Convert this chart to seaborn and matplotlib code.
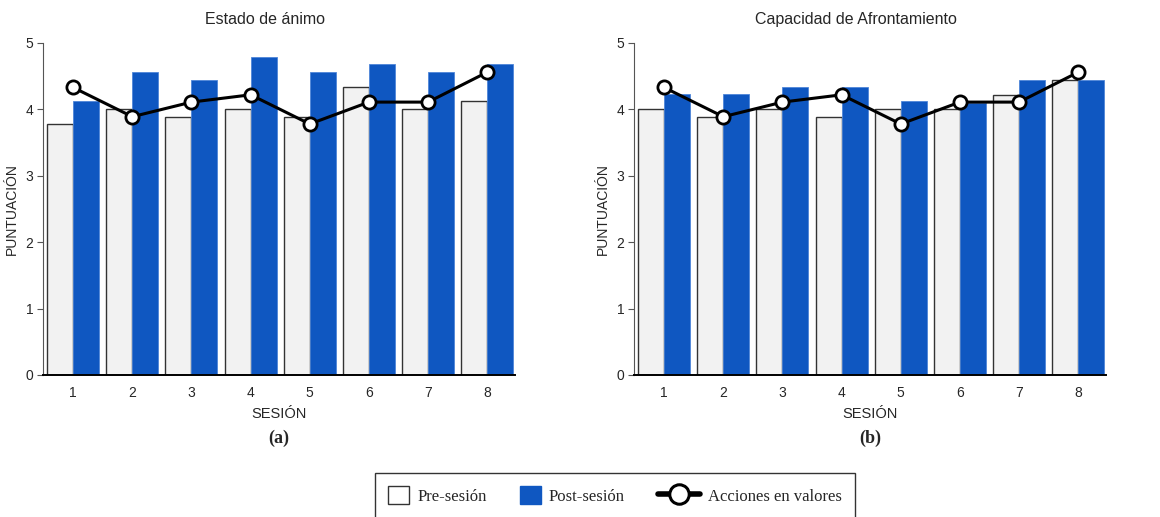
import seaborn as sns
import matplotlib.pyplot as plt
import pandas as pd
import numpy as np
from matplotlib.patches import Patch
from matplotlib.lines import Line2D
from matplotlib.legend_handler import HandlerLine2D

sns.set_style("ticks")
plt.rcParams['font.family'] = ['Liberation Sans', 'DejaVu Sans']

sesiones = ['1', '2', '3', '4', '5', '6', '7', '8']

animo_pre = [3.78, 4.0, 3.89, 4.0, 3.89, 4.34, 4.0, 4.12]
animo_post = [4.13, 4.56, 4.45, 4.79, 4.56, 4.68, 4.56, 4.68]

afront_pre = [4.0, 3.88, 4.0, 3.88, 4.0, 4.0, 4.22, 4.44]
afront_post = [4.23, 4.23, 4.34, 4.34, 4.12, 4.1, 4.45, 4.45]

acciones = [4.33, 3.89, 4.11, 4.22, 3.78, 4.11, 4.11, 4.56]

titulos = ['Estado de ánimo', 'Capacidad de Afrontamiento']
letras = ['(a)', '(b)']

pre_color = '#f2f2f2'
post_color = '#0f57c1'


class WideLine(HandlerLine2D):
    # the line handle in the legend is about twice as wide as the squares
    def legend_artist(self, legend, orig_handle, fontsize, handlebox):
        handlebox.width = handlebox.width * 2
        return super().legend_artist(legend, orig_handle, fontsize, handlebox)


fig = plt.figure(figsize=(11.6, 5.17), dpi=100)
W, H = 1160, 517
ax1 = fig.add_axes([43 / W, 1 - 375 / H, 472 / W, 332 / H])
ax2 = fig.add_axes([634 / W, 1 - 375 / H, 472 / W, 332 / H])

paneles = [(ax1, animo_pre, animo_post), (ax2, afront_pre, afront_post)]

for i, (ax, pre, post) in enumerate(paneles):
    df = pd.DataFrame({
        'Sesión': sesiones * 2,
        'Puntuación': pre + post,
        'Momento': ['Pre-sesión'] * 8 + ['Post-sesión'] * 8,
    })
    sns.barplot(data=df, x='Sesión', y='Puntuación', hue='Momento',
                palette={'Pre-sesión': pre_color, 'Post-sesión': post_color},
                width=0.88, gap=0, ax=ax, legend=False, saturation=1)
    for p in ax.patches:
        if p.get_facecolor()[2] > 0.9 and p.get_facecolor()[0] > 0.9:
            p.set_edgecolor('#333333')
            p.set_linewidth(1)
        else:
            p.set_edgecolor('#4f86d8')
            p.set_linewidth(0.6)

    dfl = pd.DataFrame({'Sesión': sesiones, 'Acciones': acciones})
    sns.pointplot(data=dfl, x='Sesión', y='Acciones', color='black',
                  ax=ax, linewidth=2.2, markersize=9.5,
                  markerfacecolor='white', markeredgecolor='black',
                  markeredgewidth=2)

    ax.set_xlim(-0.51, 7.47)
    ax.set_ylim(0, 5)
    ax.set_yticks([0, 1, 2, 3, 4, 5])
    ax.tick_params(axis='x', length=0, pad=8, labelsize=10)
    ax.tick_params(axis='y', length=4, width=0.8, pad=3, labelsize=10,
                   color='#555555')
    sns.despine(ax=ax)
    ax.spines['left'].set_color('#555555')
    ax.spines['left'].set_linewidth(0.8)
    ax.spines['bottom'].set_color('black')
    ax.spines['bottom'].set_linewidth(1.4)
    ax.set_title(titulos[i], fontsize=11.5, pad=14, x=0.47)
    ax.set_xlabel('SESIÓN', fontsize=10.5, labelpad=5)
    ax.set_ylabel('PUNTUACIÓN', fontsize=10, labelpad=5)
    ax.text(0.5, -0.19, letras[i], transform=ax.transAxes, ha='center',
            va='center', fontsize=13, fontweight='bold',
            family=['Liberation Serif', 'DejaVu Serif'])

linea = Line2D([0], [0], color='black', linewidth=4, marker='o', markersize=14,
               markerfacecolor='white', markeredgecolor='black',
               markeredgewidth=2.2)
handles = [
    Patch(facecolor='white', edgecolor='#333333', linewidth=1),
    Patch(facecolor=post_color, edgecolor=post_color),
    linea,
]
leg = fig.legend(handles, ['Pre-sesión', 'Post-sesión', 'Acciones en valores'],
                 loc='upper center', bbox_to_anchor=(615 / W, 1 - 473 / H),
                 borderaxespad=0, ncol=3, frameon=True, fancybox=False,
                 handlelength=1.25, handleheight=1.25, handletextpad=0.5,
                 columnspacing=2.0, borderpad=0.8,
                 handler_map={linea: WideLine()},
                 prop={'family': ['Liberation Serif', 'DejaVu Serif'],
                       'size': 12})
leg.get_frame().set_edgecolor('black')
leg.get_frame().set_linewidth(1)

fig.savefig('out.png', dpi=100)
